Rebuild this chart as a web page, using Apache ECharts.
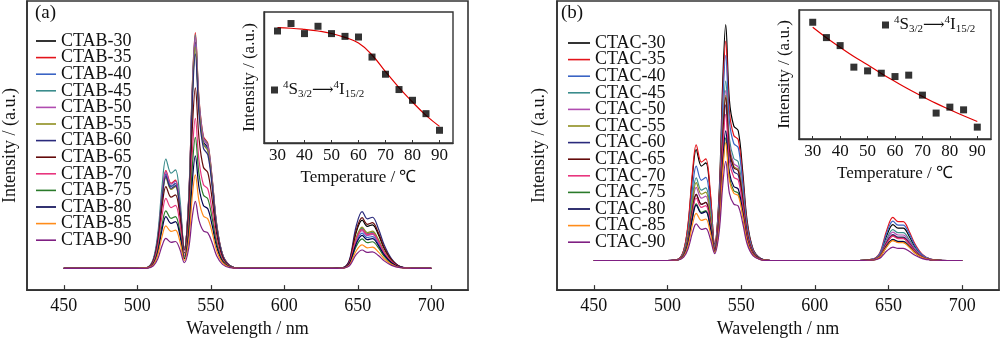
<!DOCTYPE html>
<html>
<head>
<meta charset="utf-8">
<script src="https://cdn.jsdelivr.net/npm/echarts@6/dist/echarts.min.js"></script>
<style>
  html, body { margin: 0; padding: 0; background: #fff; }
  #chart { width: 1000px; height: 343px; }
</style>
</head>
<body>
<div id="chart"></div>
<script>
// Emission spectra sampled on a shared wavelength grid (nm)
const wavelengths = [450, 500, 507, 511, 514, 517, 519.5, 523, 526, 529, 532, 535, 537.5, 539.5, 542, 545, 548, 551, 554, 558, 563, 570, 630, 640, 643, 645, 649, 653, 656.5, 660, 664, 668, 673, 679, 690, 700];

const ctabNames = ['CTAB-30', 'CTAB-35', 'CTAB-40', 'CTAB-45', 'CTAB-50', 'CTAB-55', 'CTAB-60', 'CTAB-65', 'CTAB-70', 'CTAB-75', 'CTAB-80', 'CTAB-85', 'CTAB-90'];
const ctacNames = ['CTAC-30', 'CTAC-35', 'CTAC-40', 'CTAC-45', 'CTAC-50', 'CTAC-55', 'CTAC-60', 'CTAC-65', 'CTAC-70', 'CTAC-75', 'CTAC-80', 'CTAC-85', 'CTAC-90'];
const seriesColors = ['#000000', '#e3141b', '#3a64c4', '#3a8c8c', '#b04cb0', '#8f8f20', '#2a2a7c', '#640a0a', '#e8357e', '#2a7a2a', '#00004e', '#ff8c1a', '#7f1f82'];

// CTAB spectra
const ctab30 = [0,0,.004,.036,.128,.308,.40,.348,.36,.256,.082,.288,.749,.96,.691,.538,.509,.365,.182,.058,.012,0,0,.002,.015,.043,.154,.205,.178,.185,.144,.084,.035,.007,0,0];
const ctab35 = [0,0,.004,.037,.133,.32,.415,.361,.374,.266,.085,.3,.78,1.0,.72,.56,.53,.38,.19,.06,.012,0,0,.002,.012,.035,.124,.165,.144,.149,.116,.068,.028,.005,0,0];
const ctab40 = [0,0,.004,.036,.128,.308,.40,.348,.36,.256,.081,.285,.741,.95,.684,.532,.504,.361,.181,.057,.011,0,0,.002,.011,.032,.113,.15,.131,.135,.105,.062,.026,.005,0,0];
const ctab45 = [0,0,.005,.042,.148,.357,.464,.404,.418,.297,.084,.297,.772,.99,.713,.554,.525,.376,.188,.059,.012,0,0,.002,.013,.036,.128,.17,.148,.153,.119,.07,.029,.006,0,0];
const ctab50 = [0,0,.004,.037,.131,.316,.41,.357,.369,.262,.083,.294,.764,.98,.706,.549,.519,.372,.186,.059,.012,0,0,.002,.012,.034,.12,.16,.139,.144,.112,.066,.027,.005,0,0];
const ctab55 = [0,0,.004,.035,.123,.296,.385,.335,.347,.246,.08,.282,.733,.94,.677,.526,.498,.357,.179,.056,.011,0,0,.002,.013,.037,.131,.175,.152,.158,.123,.072,.03,.006,0,0];
const ctab60 = [0,0,.004,.035,.125,.30,.39,.339,.351,.25,.077,.273,.71,.91,.655,.51,.482,.346,.173,.055,.011,0,0,.003,.018,.051,.181,.241,.21,.217,.169,.099,.041,.008,0,0];
const ctab65 = [0,0,.003,.031,.111,.267,.347,.302,.312,.222,.065,.23,.597,.766,.552,.429,.406,.291,.146,.046,.009,0,0,.003,.016,.045,.161,.215,.187,.194,.151,.088,.037,.007,0,0];
const ctab70 = [0,0,.003,.027,.095,.229,.297,.258,.267,.19,.054,.191,.496,.636,.458,.356,.337,.242,.121,.038,.008,0,0,.002,.012,.035,.124,.165,.144,.149,.116,.068,.028,.005,0,0];
const ctab75 = [0,0,.002,.022,.078,.188,.244,.212,.22,.156,.047,.167,.434,.556,.40,.311,.295,.211,.106,.033,.007,0,0,.002,.009,.026,.094,.125,.109,.113,.088,.051,.021,.004,0,0];
const ctab80 = [0,0,.002,.02,.07,.169,.22,.191,.198,.141,.041,.143,.372,.477,.343,.267,.253,.181,.091,.029,.006,0,0,.002,.011,.029,.105,.14,.122,.126,.098,.057,.024,.005,0,0];
const ctab85 = [0,0,.002,.016,.058,.139,.18,.157,.162,.115,.034,.119,.31,.397,.286,.222,.21,.151,.075,.024,.005,0,0,.001,.008,.021,.075,.10,.087,.09,.07,.041,.017,.003,0,0];
const ctab90 = [0,0,.001,.011,.041,.098,.127,.11,.114,.081,.024,.085,.222,.284,.204,.159,.151,.108,.054,.017,.003,0,0,.001,.006,.016,.059,.078,.068,.07,.055,.032,.013,.003,0,0];

// CTAC spectra
const ctac30 = [0,0,.005,.042,.15,.362,.47,.40,.414,.282,.07,.28,.76,1.0,.68,.57,.55,.38,.17,.05,.01,0,0,.006,.018,.038,.109,.152,.137,.137,.103,.058,.021,.005,0,0];
const ctac35 = [0,0,.005,.044,.157,.377,.49,.417,.431,.294,.065,.26,.707,.93,.632,.53,.512,.353,.158,.047,.009,0,0,.007,.022,.046,.132,.183,.165,.165,.124,.07,.026,.005,0,0];
const ctac40 = [0,0,.004,.036,.128,.308,.40,.34,.352,.24,.061,.244,.661,.87,.592,.496,.479,.331,.148,.044,.009,0,0,.007,.02,.042,.12,.167,.15,.15,.114,.063,.023,.005,0,0];
const ctac45 = [0,0,.004,.032,.112,.27,.35,.298,.308,.21,.053,.213,.578,.76,.517,.433,.418,.289,.129,.038,.008,0,0,.005,.016,.033,.094,.131,.118,.118,.089,.05,.018,.004,0,0];
const ctac50 = [0,0,.003,.028,.099,.239,.31,.264,.273,.186,.05,.202,.547,.72,.49,.41,.396,.274,.122,.036,.007,0,0,.005,.014,.03,.086,.12,.108,.108,.082,.046,.017,.004,0,0];
const ctac55 = [0,0,.003,.03,.106,.254,.33,.281,.29,.198,.049,.196,.532,.70,.476,.399,.385,.266,.119,.035,.007,0,0,.003,.01,.021,.061,.085,.077,.077,.058,.032,.012,.003,0,0];
const ctac60 = [0,0,.003,.025,.09,.216,.28,.238,.246,.168,.046,.185,.502,.66,.449,.376,.363,.251,.112,.033,.007,0,0,.004,.013,.028,.079,.11,.099,.099,.075,.042,.015,.003,0,0];
const ctac65 = [0,0,.003,.025,.09,.216,.28,.238,.246,.168,.048,.193,.524,.69,.469,.393,.38,.262,.117,.035,.007,0,0,.004,.013,.026,.076,.105,.095,.095,.071,.04,.015,.003,0,0];
const ctac70 = [0,0,.003,.024,.085,.204,.265,.225,.233,.159,.043,.174,.471,.62,.422,.353,.341,.236,.105,.031,.006,0,0,.004,.012,.026,.074,.103,.093,.093,.07,.039,.014,.003,0,0];
const ctac75 = [0,0,.002,.022,.077,.185,.24,.204,.211,.144,.036,.146,.395,.52,.354,.296,.286,.198,.088,.026,.005,0,0,.004,.011,.023,.065,.09,.081,.081,.061,.034,.013,.003,0,0];
const ctac80 = [0,0,.002,.021,.075,.181,.235,.2,.207,.141,.039,.154,.418,.55,.374,.314,.303,.209,.094,.028,.006,0,0,.004,.011,.022,.064,.089,.08,.08,.061,.034,.012,.003,0,0];
const ctac85 = [0,0,.002,.018,.064,.154,.20,.17,.176,.12,.035,.14,.38,.50,.34,.285,.275,.19,.085,.025,.005,0,0,.003,.01,.021,.06,.084,.076,.076,.057,.032,.012,.003,0,0];
const ctac90 = [0,0,.002,.014,.05,.119,.155,.132,.136,.093,.029,.118,.319,.42,.286,.239,.231,.16,.071,.021,.004,0,0,.002,.007,.014,.041,.057,.051,.051,.039,.022,.008,.002,0,0];

const ctabSpectra = [ctab30, ctab35, ctab40, ctab45, ctab50, ctab55, ctab60, ctab65, ctab70, ctab75, ctab80, ctab85, ctab90];
const ctacSpectra = [ctac30, ctac35, ctac40, ctac45, ctac50, ctac55, ctac60, ctac65, ctac70, ctac75, ctac80, ctac85, ctac90];

// Integrated green emission vs temperature, with fitted curves
const temps = [30, 35, 40, 45, 50, 55, 60, 65, 70, 75, 80, 85, 90];
const ctabGreen = [0.855, 0.912, 0.835, 0.891, 0.835, 0.814, 0.809, 0.656, 0.525, 0.408, 0.326, 0.224, 0.097];
const ctabFit = [0.881, 0.876, 0.867, 0.855, 0.836, 0.806, 0.763, 0.672, 0.545, 0.423, 0.313, 0.211, 0.127];
const ctacGreen = [0.905, 0.786, 0.724, 0.557, 0.528, 0.510, 0.484, 0.495, 0.340, 0.201, 0.247, 0.226, 0.092];
const ctacFit = [0.866, 0.785, 0.711, 0.640, 0.575, 0.508, 0.446, 0.386, 0.330, 0.276, 0.227, 0.180, 0.136];

const waveTicks = [450, 500, 550, 600, 650, 700];
const tempTicks = [30, 40, 50, 60, 70, 80, 90];

const FONT = '"Liberation Serif", "Times New Roman", serif';
const AX = '#333333';
const transitionLabel = '{s|4}S{d|3/2}{a|⟶}{s|4}I{d|15/2}';

function pairs(xs, ys) { return xs.map((x, i) => [x, ys[i]]); }

function spectrumAxisX(grid) {
  return {
    gridIndex: grid, type: 'value', min: 425, max: 725,
    axisLine: { show: true, onZero: false, lineStyle: { color: AX, width: 1.6 } },
    axisTick: { show: true, inside: true, length: 5, customValues: waveTicks, lineStyle: { color: AX, width: 1.2 } },
    axisLabel: { customValues: waveTicks, fontFamily: FONT, fontSize: 18, color: '#111', margin: 7 },
    splitLine: { show: false },
    name: 'Wavelength / nm', nameLocation: 'middle', nameGap: 28,
    nameTextStyle: { fontFamily: FONT, fontSize: 18, color: '#111' }
  };
}
function spectrumAxisY(grid, min, max, gap) {
  return {
    gridIndex: grid, type: 'value', min: min, max: max,
    axisLine: { show: true, onZero: false, lineStyle: { color: AX, width: 1.6 } },
    axisTick: { show: false }, axisLabel: { show: false }, splitLine: { show: false },
    name: 'Intensity / (a.u.)', nameLocation: 'middle', nameGap: gap,
    nameTextStyle: { fontFamily: FONT, fontSize: 18, color: '#111' }
  };
}
function insetAxisX(grid) {
  return {
    gridIndex: grid, type: 'value', min: 25, max: 95, z: 10,
    axisLine: { show: true, onZero: false, lineStyle: { color: AX, width: 1.4 } },
    axisTick: { show: true, inside: true, length: 3, customValues: tempTicks, lineStyle: { color: AX } },
    axisLabel: { customValues: tempTicks, fontFamily: FONT, fontSize: 17, color: '#111', margin: 4 },
    splitLine: { show: false },
    name: 'Temperature / ℃', nameLocation: 'middle', nameGap: 26,
    nameTextStyle: { fontFamily: FONT, fontSize: 17, color: '#111' }
  };
}
function insetAxisY(grid) {
  return {
    gridIndex: grid, type: 'value', min: 0, max: 1, z: 10,
    axisLine: { show: true, onZero: false, lineStyle: { color: AX, width: 1.4 } },
    axisTick: { show: false }, axisLabel: { show: false }, splitLine: { show: false },
    name: 'Intensity / (a.u.)', nameLocation: 'middle', nameGap: 6,
    nameTextStyle: { fontFamily: FONT, fontSize: 17, color: '#111' }
  };
}

const series = [];
ctabSpectra.forEach((vals, i) => series.push({
  name: ctabNames[i], type: 'line', xAxisIndex: 0, yAxisIndex: 0,
  data: pairs(wavelengths, vals), symbol: 'none', showSymbol: false,
  smooth: 0.35, color: seriesColors[i], lineStyle: { width: 1.2 }
}));
ctacSpectra.forEach((vals, i) => series.push({
  name: ctacNames[i], type: 'line', xAxisIndex: 1, yAxisIndex: 1,
  data: pairs(wavelengths, vals), symbol: 'none', showSymbol: false,
  smooth: 0.35, color: seriesColors[i], lineStyle: { width: 1.2 }
}));
series.push(
  { name: 'ctabFitLine', type: 'line', xAxisIndex: 2, yAxisIndex: 2, data: pairs(temps, ctabFit),
    symbol: 'none', smooth: 0.5, color: '#e00000', lineStyle: { width: 1.2 }, z: 10 },
  { name: 'ctabPoints', type: 'scatter', xAxisIndex: 2, yAxisIndex: 2, data: pairs(temps, ctabGreen),
    symbol: 'rect', symbolSize: 7, color: '#000', z: 11 },
  { name: 'ctacFitLine', type: 'line', xAxisIndex: 3, yAxisIndex: 3, data: pairs(temps, ctacFit),
    symbol: 'none', smooth: 0.5, color: '#e00000', lineStyle: { width: 1.2 }, z: 10 },
  { name: 'ctacPoints', type: 'scatter', xAxisIndex: 3, yAxisIndex: 3, data: pairs(temps, ctacGreen),
    symbol: 'rect', symbolSize: 7, color: '#000', z: 11 }
);

const richTransition = {
  s: { fontFamily: FONT, fontSize: 11, verticalAlign: 'top', lineHeight: 20, color: '#111' },
  d: { fontFamily: FONT, fontSize: 11, verticalAlign: 'bottom', lineHeight: 20, color: '#111' },
  a: { fontFamily: '"DejaVu Serif", "DejaVu Sans", serif', fontSize: 15, lineHeight: 20, color: '#111' }
};

const legendText = { fontFamily: FONT, fontSize: 18, color: '#111', lineHeight: 16.67 };

const option = {
  animation: false,
  backgroundColor: '#fff',
  title: [
    { text: '(a)', left: 35, top: 4, padding: 0, textStyle: { fontFamily: FONT, fontSize: 19, fontWeight: 'normal', color: '#111' } },
    { text: '(b)', left: 561, top: 4, padding: 0, textStyle: { fontFamily: FONT, fontSize: 19, fontWeight: 'normal', color: '#111' } }
  ],
  grid: [
    { left: 26, top: 1, width: 442, height: 292, show: true, borderColor: AX, borderWidth: 1.6, backgroundColor: 'transparent' },
    { left: 557, top: 1, width: 442, height: 292, show: true, borderColor: AX, borderWidth: 1.6, backgroundColor: 'transparent' },
    { left: 264, top: 12, width: 189, height: 131, show: true, borderColor: AX, borderWidth: 1.4, backgroundColor: '#fff' },
    { left: 799, top: 10, width: 192, height: 129, show: true, borderColor: AX, borderWidth: 1.4, backgroundColor: '#fff' }
  ],
  xAxis: [spectrumAxisX(0), spectrumAxisX(1), insetAxisX(2), insetAxisX(3)],
  yAxis: [spectrumAxisY(0, -0.092, 1.134, 8), spectrumAxisY(1, -0.1255, 1.1, 9), insetAxisY(2), insetAxisY(3)],
  legend: [
    { data: ctabNames, orient: 'vertical', left: 36, top: 32, padding: 0, itemGap: -1.4, icon: 'rect',
      itemWidth: 20, itemHeight: 1.6, textStyle: legendText, selectedMode: false },
    { data: ctacNames, orient: 'vertical', left: 568, top: 34, padding: 0, itemGap: -1.4, icon: 'rect',
      itemWidth: 22, itemHeight: 1.6, textStyle: legendText, selectedMode: false },
    { data: ['ctabPoints'], left: 271, top: 80, padding: 0, icon: 'rect', itemWidth: 7, itemHeight: 7, z: 12,
      formatter: () => transitionLabel, selectedMode: false,
      textStyle: { fontFamily: FONT, fontSize: 17, color: '#111', lineHeight: 20, rich: richTransition } },
    { data: ['ctacPoints'], left: 882, top: 15, padding: 0, icon: 'rect', itemWidth: 7, itemHeight: 7, z: 12,
      formatter: () => transitionLabel, selectedMode: false,
      textStyle: { fontFamily: FONT, fontSize: 17, color: '#111', lineHeight: 20, rich: richTransition } }
  ],
  series: series
};

const chart = echarts.init(document.getElementById('chart'), null, { renderer: 'canvas' });
chart.setOption(option);
</script>
</body>
</html>
